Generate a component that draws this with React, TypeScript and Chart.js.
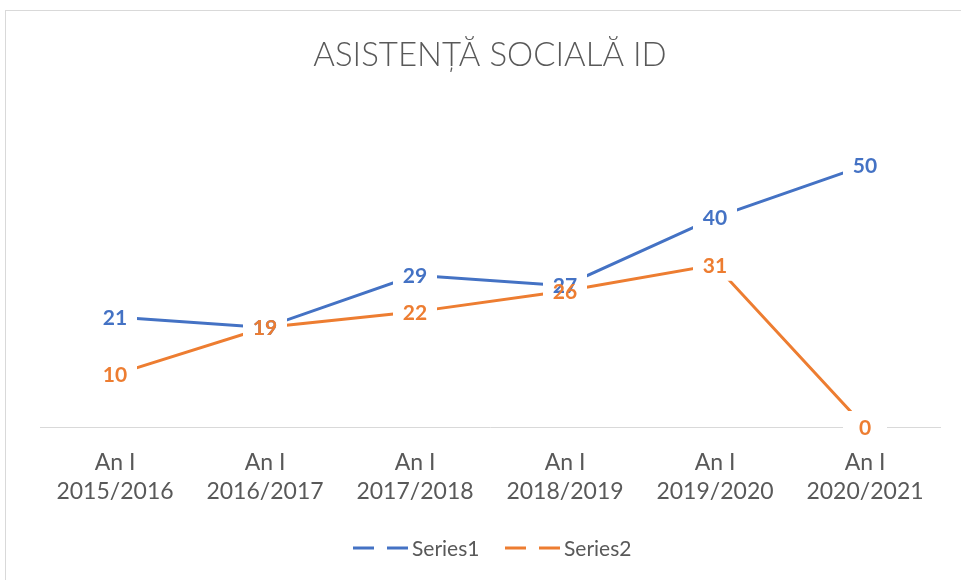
import React, { useEffect, useRef } from "react";
import { Chart, registerables } from "chart.js";

Chart.register(...registerables);

const TITLE = "ASISTENȚĂ SOCIALĂ ID";
const categories: string[][] = [
  ["An I", "2015/2016"],
  ["An I", "2016/2017"],
  ["An I", "2017/2018"],
  ["An I", "2018/2019"],
  ["An I", "2019/2020"],
  ["An I", "2020/2021"],
];
const series1 = [21, 19, 29, 27, 40, 50];
const series2 = [10, 19, 22, 26, 31, 0];
const seriesNames = ["Series1", "Series2"];
const colors = ["#4472C4", "#ED7D31"];

const FONT = "Lato, 'Open Sans', sans-serif";
const GRAY = "#595959";

const decorPlugin = {
  id: "decor",
  beforeDraw(chart: any) {
    const ctx = chart.ctx;
    ctx.save();
    ctx.fillStyle = "#ffffff";
    ctx.fillRect(0, 0, chart.width, chart.height);
    ctx.strokeStyle = "#d9d9d9";
    ctx.lineWidth = 1;
    ctx.strokeRect(5.5, 10.5, 1200, 1200);
    // title
    ctx.fillStyle = GRAY;
    ctx.font = `300 33px ${FONT}`;
    ctx.textAlign = "center";
    ctx.textBaseline = "alphabetic";
    ctx.fillText(TITLE, 490, 66);
    ctx.restore();
  },
  afterDatasetsDraw(chart: any) {
    const ctx = chart.ctx;
    ctx.save();
    // clear boxes behind every data label (lines & axis are cut there)
    ctx.fillStyle = "#ffffff";
    chart.data.datasets.forEach((ds: any, di: number) => {
      const meta = chart.getDatasetMeta(di);
      meta.data.forEach((pt: any) => {
        ctx.fillRect(pt.x - 22, pt.y - 16, 44, 32);
      });
    });
    ctx.font = `bold 21px ${FONT}`;
    ctx.textAlign = "center";
    ctx.textBaseline = "middle";
    chart.data.datasets.forEach((ds: any, di: number) => {
      const meta = chart.getDatasetMeta(di);
      meta.data.forEach((pt: any, i: number) => {
        ctx.fillStyle = ds.borderColor;
        ctx.fillText(String(ds.data[i]), pt.x, pt.y + 1);
      });
    });
    // legend
    const y = 548;
    const items = [
      { x: 353, name: chart.data.datasets[0].label, c: chart.data.datasets[0].borderColor },
      { x: 505, name: chart.data.datasets[1].label, c: chart.data.datasets[1].borderColor },
    ];
    ctx.lineWidth = 3;
    ctx.font = `21px ${FONT}`;
    ctx.textAlign = "left";
    items.forEach((it) => {
      ctx.strokeStyle = it.c;
      ctx.beginPath();
      ctx.moveTo(it.x, y);
      ctx.lineTo(it.x + 21, y);
      ctx.moveTo(it.x + 34, y);
      ctx.lineTo(it.x + 55, y);
      ctx.stroke();
      ctx.fillStyle = GRAY;
      ctx.fillText(it.name, it.x + 59, y + 1);
    });
    ctx.restore();
  },
};

export default function App() {
  const ref = useRef<HTMLCanvasElement | null>(null);
  useEffect(() => {
    if (!ref.current) return;
    const chart = new Chart(ref.current, {
      type: "line",
      data: {
        labels: categories,
        datasets: [
          {
            label: seriesNames[0],
            data: series1,
            borderColor: colors[0],
            backgroundColor: colors[0],
            borderWidth: 3,
            pointRadius: 0,
            tension: 0,
          },
          {
            label: seriesNames[1],
            data: series2,
            borderColor: colors[1],
            backgroundColor: colors[1],
            borderWidth: 3,
            pointRadius: 0,
            tension: 0,
          },
        ],
      },
      options: {
        animation: false,
        responsive: false,
        devicePixelRatio: 1,
        layout: { padding: { top: 113, left: 40, right: 21, bottom: 53 } },
        plugins: {
          legend: { display: false },
          title: { display: false },
          tooltip: { enabled: false },
        },
        scales: {
          x: {
            offset: true,
            grid: { display: false, drawTicks: false },
            border: { display: true, color: "#d9d9d9", width: 1 },
            ticks: {
              color: GRAY,
              font: { family: FONT, size: 23, lineHeight: 1.22 },
              padding: 22,
              maxRotation: 0,
              autoSkip: false,
            },
            afterFit: (s: any) => {
              s.height = 100;
            },
          },
          y: { display: false, min: 0, max: 60 },
        },
      },
      plugins: [decorPlugin],
    });
    return () => chart.destroy();
  }, []);
  return (
    <div style={{ position: "fixed", left: 0, top: 0 }}>
      <canvas ref={ref} width={961} height={580} />
    </div>
  );
}
